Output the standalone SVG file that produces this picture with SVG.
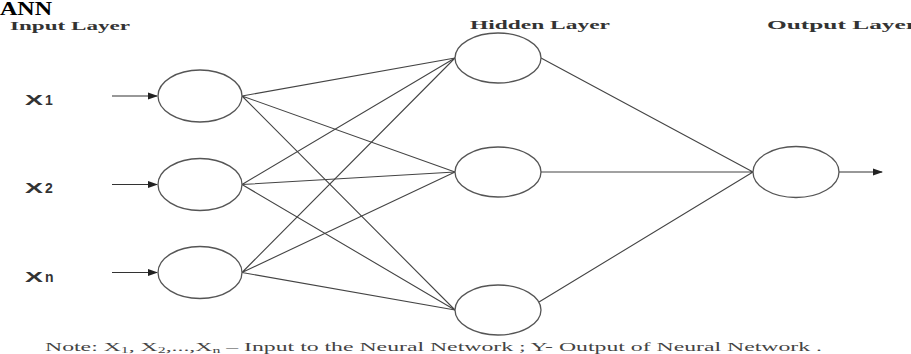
<svg xmlns="http://www.w3.org/2000/svg" width="911" height="354" viewBox="0 0 911 354">
<style>
.node{fill:#fff;stroke:#555;stroke-width:1.3}
.edge{stroke:#444;stroke-width:1.1;fill:none}
.arrow{stroke:#333;stroke-width:1.2;fill:none;marker-end:url(#ah)}
.layer{font-family:"Liberation Serif",serif;font-weight:bold;font-size:12px;fill:#333}
.xl{font-family:"Liberation Sans",sans-serif;font-weight:bold;font-size:14px;fill:#333}
.note{font-family:"Liberation Serif",serif;font-size:12px;fill:#444}
</style>
<defs>
<marker id="ah" markerWidth="10" markerHeight="8" refX="9" refY="4" orient="auto" markerUnits="userSpaceOnUse">
<path d="M0,0.5 L10,4 L0,7.5 Z" fill="#222"/>
</marker>
</defs>
<rect width="911" height="354" fill="#fff"/>
<text x="0" y="15" font-family="Liberation Serif,serif" font-weight="bold" font-size="18" fill="#000" textLength="52" lengthAdjust="spacingAndGlyphs">ANN</text>
<text class="layer" x="10" y="30" textLength="120" lengthAdjust="spacingAndGlyphs">Input Layer</text>
<text class="layer" x="470" y="29" textLength="140" lengthAdjust="spacingAndGlyphs">Hidden Layer</text>
<text class="layer" x="767" y="29" textLength="150" lengthAdjust="spacingAndGlyphs">Output Layer</text>
<g id="connectors">
<path class="arrow" d="M112,96 L157,96"/>
<path class="arrow" d="M112,184.5 L157,184.5"/>
<path class="arrow" d="M112,272.5 L157,272.5"/>
<path class="arrow" d="M839,172 L882,172"/>
<path class="edge" d="M242,96 L455,58 M242,96 L455,172 M242,96 L455,310"/>
<path class="edge" d="M242,184.5 L455,58 M242,184.5 L455,172 M242,184.5 L455,310"/>
<path class="edge" d="M242,272.5 L455,58 M242,272.5 L455,172 M242,272.5 L455,310"/>
<path class="edge" d="M541,58 L753,172 M541,172 L753,172 M539,302 L753,172"/>
</g>
<g id="label-x1"><text class="xl" x="25" y="105" textLength="18" lengthAdjust="spacingAndGlyphs">X</text><text class="xl" x="45" y="105" font-size="9">1</text></g>
<g id="label-x2"><text class="xl" x="25" y="193" textLength="18" lengthAdjust="spacingAndGlyphs">X</text><text class="xl" x="45" y="193" font-size="9">2</text></g>
<g id="label-xn"><text class="xl" x="25" y="282" textLength="18" lengthAdjust="spacingAndGlyphs">X</text><text class="xl" x="45" y="282" font-size="10">n</text></g>
<g id="input1"><ellipse class="node" cx="200" cy="96" rx="42" ry="26"/></g>
<g id="input2"><ellipse class="node" cx="200" cy="184.5" rx="42" ry="26"/></g>
<g id="input3"><ellipse class="node" cx="200" cy="272.5" rx="42" ry="26"/></g>
<g id="hidden1"><ellipse class="node" cx="498" cy="58" rx="43" ry="25"/></g>
<g id="hidden2"><ellipse class="node" cx="498" cy="172" rx="43" ry="25"/></g>
<g id="hidden3"><ellipse class="node" cx="498" cy="310" rx="43" ry="25"/></g>
<g id="output"><ellipse class="node" cx="796" cy="172" rx="43" ry="25.5"/></g>
<text class="note" x="45" y="351" textLength="777" lengthAdjust="spacingAndGlyphs">Note: X<tspan font-size="8" dy="2">1</tspan><tspan dy="-2">, X</tspan><tspan font-size="8" dy="2">2</tspan><tspan dy="-2">,...,X</tspan><tspan font-size="8" dy="2">n</tspan><tspan dy="-2"> – Input to the Neural Network ; Y- Output of Neural Network .</tspan></text>
</svg>
